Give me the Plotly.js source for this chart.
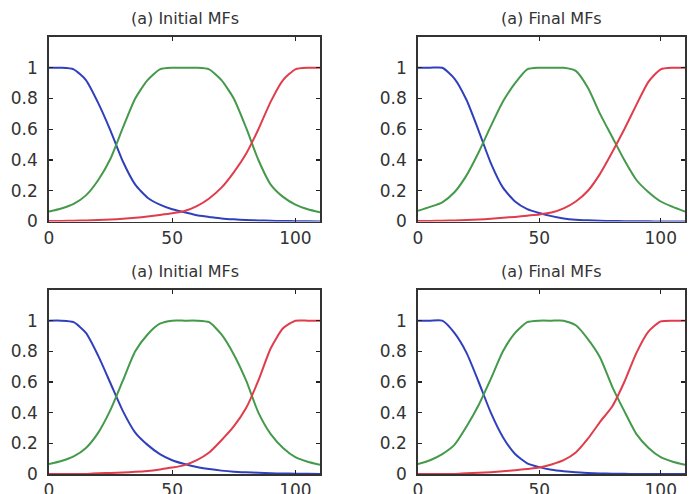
<!DOCTYPE html>
<html>
<head>
<meta charset="utf-8">
<script src="https://cdn.plot.ly/plotly-3.0.1.min.js"></script>
<style>
html,body{margin:0;padding:0;background:#fff;}
#chart{width:692px;height:494px;}
</style>
</head>
<body>
<div id="chart"></div>
<script>
// Shared x grid of the membership functions (universe of discourse)
const xValues = [0,5,10,15,20,25,30,35,40,45,50,55,60,65,70,75,80,85,90,95,100,105,110];

// Panel titles
const panelTitles = ["(a) Initial MFs", "(a) Final MFs", "(a) Initial MFs", "(a) Final MFs"];

// Top-left: Initial MFs
const tlLow  = [1,1,0.99,0.92,0.77,0.59,0.39,0.24,0.155,0.11,0.08,0.06,0.04,0.03,0.02,0.014,0.01,0.007,0.005,0.003,0.002,0.001,0];
const tlMid  = [0.065,0.085,0.115,0.17,0.27,0.41,0.61,0.80,0.92,0.99,1,1,1,0.99,0.92,0.80,0.61,0.40,0.24,0.16,0.11,0.08,0.06];
const tlHigh = [0.003,0.004,0.005,0.007,0.01,0.013,0.018,0.024,0.032,0.042,0.053,0.068,0.10,0.15,0.22,0.32,0.44,0.60,0.78,0.92,0.99,1,1];

// Top-right: Final MFs
const trLow  = [1,1,1,0.93,0.79,0.59,0.38,0.22,0.13,0.08,0.055,0.035,0.02,0.012,0.008,0.005,0.003,0.002,0.001,0.001,0,0,0];
const trMid  = [0.07,0.095,0.125,0.19,0.30,0.45,0.62,0.78,0.90,0.99,1,1,1,0.98,0.87,0.70,0.55,0.40,0.27,0.19,0.13,0.095,0.065];
const trHigh = [0.003,0.004,0.005,0.007,0.01,0.013,0.018,0.024,0.03,0.038,0.046,0.058,0.085,0.13,0.2,0.31,0.45,0.60,0.76,0.91,0.99,1,1];

// Bottom-left: Initial MFs
const blLow  = [1,1,0.99,0.92,0.77,0.59,0.41,0.27,0.19,0.13,0.09,0.065,0.045,0.032,0.022,0.015,0.011,0.008,0.005,0.003,0.002,0.001,0];
const blMid  = [0.065,0.085,0.115,0.17,0.27,0.42,0.61,0.80,0.91,0.98,1,1,1,0.99,0.91,0.78,0.61,0.40,0.26,0.17,0.11,0.08,0.06];
const blHigh = [0,0,0,0,0.005,0.007,0.01,0.014,0.02,0.03,0.042,0.058,0.09,0.14,0.22,0.31,0.43,0.61,0.82,0.95,1,1,1];

// Bottom-right: Final MFs
const brLow  = [1,1,1,0.92,0.79,0.60,0.40,0.24,0.13,0.07,0.045,0.028,0.018,0.011,0.007,0.004,0.002,0.001,0,0,0,0,0];
const brMid  = [0.065,0.09,0.13,0.19,0.31,0.45,0.62,0.80,0.92,0.99,1,1,1,0.97,0.88,0.76,0.57,0.41,0.26,0.17,0.11,0.08,0.06];
const brHigh = [0,0,0,0,0.005,0.008,0.012,0.018,0.025,0.033,0.042,0.062,0.09,0.14,0.23,0.34,0.44,0.60,0.79,0.93,0.995,1,1];

// Tick labels
const xTickVals = [0,50,100];
const yTickVals = [0,0.2,0.4,0.6,0.8,1];

const panels = [
  {low: tlLow, mid: tlMid, high: tlHigh},
  {low: trLow, mid: trMid, high: trHigh},
  {low: blLow, mid: blMid, high: blHigh},
  {low: brLow, mid: brMid, high: brHigh}
];

const colors = {low: '#3040bd', mid: '#449a4a', high: '#e03c4c'};

const traces = [];
panels.forEach((p, i) => {
  const xa = i === 0 ? 'x' : 'x' + (i + 1);
  const ya = i === 0 ? 'y' : 'y' + (i + 1);
  ['low','mid','high'].forEach(k => {
    traces.push({
      x: xValues, y: p[k], xaxis: xa, yaxis: ya, type: 'scatter', mode: 'lines',
      line: {color: colors[k], width: 2, shape: 'spline', smoothing: 0.6},
      hoverinfo: 'skip', showlegend: false
    });
  });
});

const tickFont = {family: 'DejaVu Sans, Arial, sans-serif', size: 17, color: '#333'};

function xAxis(domain, anchor) {
  return {
    domain: domain, anchor: anchor, range: [0, 110], tickvals: xTickVals,
    ticks: 'inside', ticklen: 4, tickwidth: 1.2, tickcolor: '#222', showline: true, linecolor: '#333', linewidth: 1.8,
    mirror: 'allticks', showgrid: false, zeroline: false, tickfont: tickFont, ticklabelstandoff: 0
  };
}
function yAxis(domain, anchor) {
  return {
    domain: domain, anchor: anchor, range: [0, 1.2], tickvals: yTickVals,
    ticks: 'inside', ticklen: 4, tickwidth: 1.2, tickcolor: '#222', showline: true, linecolor: '#333', linewidth: 1.8,
    mirror: 'allticks', showgrid: false, zeroline: false, tickfont: tickFont, ticklabelstandoff: 6
  };
}

const W = 692, H = 494;
const colL = [49 / W, 320 / W];
const colR = [418 / W, 685 / W];
const rowT = [1 - 221.5 / H, 1 - 37 / H];
const rowB = [1 - 474 / H, 1 - 290 / H];

const titleFont = {family: 'DejaVu Sans, Arial, sans-serif', size: 16, color: '#333'};
const titlePos = [
  {x: (49 + 320) / 2 / W, y: 1 - 19 / H},
  {x: (418 + 685) / 2 / W, y: 1 - 19 / H},
  {x: (49 + 320) / 2 / W, y: 1 - 271 / H},
  {x: (418 + 685) / 2 / W, y: 1 - 271 / H}
];

const layout = {
  width: W, height: H, margin: {l: 0, r: 0, t: 0, b: 0},
  paper_bgcolor: '#fff', plot_bgcolor: '#fff', showlegend: false,
  xaxis: xAxis(colL, 'y'), yaxis: yAxis(rowT, 'x'),
  xaxis2: xAxis(colR, 'y2'), yaxis2: yAxis(rowT, 'x2'),
  xaxis3: xAxis(colL, 'y3'), yaxis3: yAxis(rowB, 'x3'),
  xaxis4: xAxis(colR, 'y4'), yaxis4: yAxis(rowB, 'x4'),
  annotations: panelTitles.map((t, i) => ({
    text: t, xref: 'paper', yref: 'paper', x: titlePos[i].x, y: titlePos[i].y,
    xanchor: 'center', yanchor: 'middle', showarrow: false, font: titleFont
  }))
};

Plotly.newPlot('chart', traces, layout, {staticPlot: true, displayModeBar: false});
</script>
</body>
</html>
